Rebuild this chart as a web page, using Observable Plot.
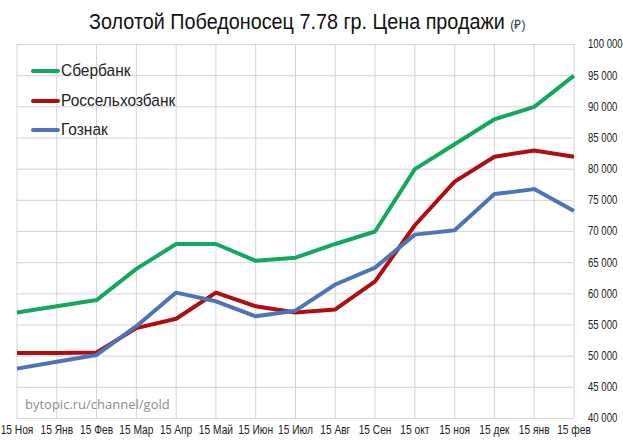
<!DOCTYPE html>
<html><head><meta charset="utf-8">
<script src="https://cdn.jsdelivr.net/npm/d3@7"></script>
<script src="https://cdn.jsdelivr.net/npm/@observablehq/plot@0.6"></script>
<style>
html,body{margin:0;padding:0;background:#fff;}
#wrap{position:relative;width:623px;height:447px;overflow:hidden;font-family:"Liberation Sans",sans-serif;}
#title{height:40px;line-height:44px;text-align:center;font-size:21.5px;color:#111;white-space:nowrap;transform:scaleX(0.92);transform-origin:300px 0;margin-left:-6px;}
#title small{font-size:13px;color:#333;}
svg{display:block;}
.leg{position:absolute;left:31px;display:flex;align-items:center;font-size:17px;color:#222;height:20px;white-space:nowrap;}
.leg i{display:block;width:29px;height:4px;border-radius:2px;margin-right:1px;}
.leg span{display:block;transform:scaleX(0.91);transform-origin:0 50%;}
#wm{position:absolute;left:25px;top:395px;font-family:"Open Sans","DejaVu Sans",sans-serif;font-size:13px;color:#8c8c8c;}
</style></head><body>
<div id="wrap"><div id="title"></div><div id="chart"></div><div id="legend"></div><div id="wm">bytopic.ru/channel/gold</div></div>
<script>
const months = ["15 Ноя","15 Янв","15 Фев","15 Мар","15 Апр","15 Май","15 Июн","15 Июл","15 Авг","15 Сен","15 окт","15 ноя","15 дек","15 янв","15 фев"];
const sberbank = [57000,58000,59000,64000,68000,68000,65300,65800,68000,70000,80000,84000,88000,90000,95000];
const rshb = [50500,50500,50600,54500,56000,60200,58000,57000,57500,62000,71000,78000,82000,83000,82000];
const goznak = [48000,49100,50200,54800,60200,58800,56400,57300,61500,64200,69500,70200,76000,76800,73300];
const names = ["Сбербанк","Россельхозбанк","Гознак"];
const colors = ["#12a95f","#b00d12","#4f74b5"];
const yTicks = d3.range(40000,100001,5000);
const fmt = d => String(d).replace(/\B(?=(\d{3})+$)/g," ");

document.getElementById("title").innerHTML = "Золотой Победоносец 7.78 гр. Цена продажи <small>(₽)</small>";
const rows = [];
[sberbank,rshb,goznak].forEach((s,k)=>s.forEach((v,i)=>rows.push({m:months[i],v,name:names[k]})));

const chart = Plot.plot({
  width:623,height:407,marginLeft:16.5,marginRight:49.5,marginTop:4,marginBottom:29,
  style:{fontFamily:'"Liberation Sans",sans-serif',fontSize:"12px",color:"#222",background:"#fff",overflow:"visible"},
  x:{type:"point",domain:months,padding:0,round:false,label:null},
  y:{domain:[40000,100000],label:null},
  color:{domain:names,range:colors},
  marks:[
    Plot.gridX(months,{stroke:"#d4d4d4",strokeOpacity:1,strokeWidth:1}),
    Plot.gridY(yTicks,{stroke:"#d4d4d4",strokeOpacity:1,strokeWidth:1}),
    Plot.axisX(months,{anchor:"bottom",tickSize:0,tickPadding:7,label:null,fontSize:12}),
    Plot.axisY(yTicks,{anchor:"right",tickSize:0,tickPadding:14,tickFormat:fmt,textAnchor:"start",label:null,fontSize:12}),
    Plot.line(rows,{x:"m",y:"v",z:"name",stroke:"name",strokeWidth:4,strokeLinejoin:"round",strokeLinecap:"butt"})
  ]
});
document.getElementById("chart").appendChild(chart);
// condensed look of the tick labels
chart.querySelectorAll("text").forEach(t=>{
  const s = months.includes(t.textContent) ? 0.85 : 0.8;
  t.setAttribute("transform",(t.getAttribute("transform")||"")+` scale(${s},1)`);
});
const leg = document.getElementById("legend");
names.forEach((n,i)=>{
  const d=document.createElement("div");d.className="leg";d.style.top=(61+i*29.5)+"px";
  const sw=document.createElement("i");sw.style.background=colors[i];
  const t=document.createElement("span");t.textContent=n;
  d.append(sw,t);leg.appendChild(d);
});
</script></body></html>
